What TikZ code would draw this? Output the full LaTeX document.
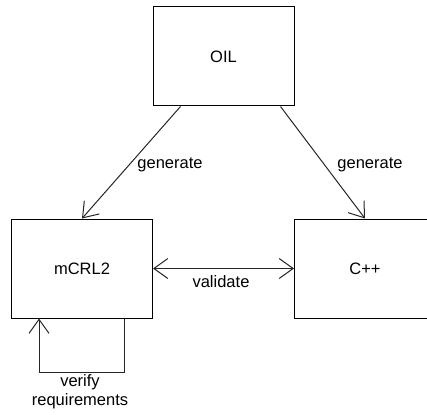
\documentclass[tikz,border=0pt]{standalone}
\usepackage{fontspec}
\setmainfont{Liberation Sans}
\usetikzlibrary{arrows.meta}
\begin{document}
\begin{tikzpicture}[x=1pt,y=-1pt,
  block/.style={draw=black,line width=1pt,minimum width=141pt,minimum height=99pt,
    inner sep=0pt,font=\fontsize{16.5}{19}\selectfont},
  lbl/.style={font=\fontsize{16.5}{19}\selectfont,inner sep=0pt},
  tip/.style={Straight Barb[length=14pt,width=20pt,line width=1pt]},
  link/.style={draw=black!85,line width=1pt,arrows={-Straight Barb[length=14pt,width=20pt,line width=1pt]}},
  biglink/.style={draw=black!85,line width=1pt,
    arrows={Straight Barb[length=14pt,width=20pt,line width=1pt]-Straight Barb[length=14pt,width=20pt,line width=1pt]}}]
\useasboundingbox (0,0) rectangle (427,414);

\node[block] (oil) at (223.5,56.5) {OIL};
\node[block] (mcrl) at (82,268.5) {mCRL2};
\node[block] (cpp) at (365,268.5) {C++};

% generation arrows from the OIL model
\coordinate (oilL) at ([xshift=28pt]oil.south west);
\coordinate (oilR) at ([xshift=128pt]oil.south west);
\draw[link] (oilL) -- (mcrl.north);
\draw[link] (oilR) -- (cpp.north);
\node[lbl] (genL) at (170,165) {generate};
\node[lbl] (genR) at (370,165) {generate};

% validation between the two targets
\draw[biglink] (mcrl.east) -- (cpp.west);
\node[lbl] (val) at (221,282) {validate};

% self loop for requirement verification
\coordinate (loopA) at ([xshift=113pt]mcrl.south west);
\coordinate (loopB) at ([xshift=28pt]mcrl.south west);
\draw[link] (loopA) -- ++(0,54) -| (loopB);
\node[lbl,align=center] (ver) at (80,392) {verify\\requirements};
\end{tikzpicture}
\end{document}
